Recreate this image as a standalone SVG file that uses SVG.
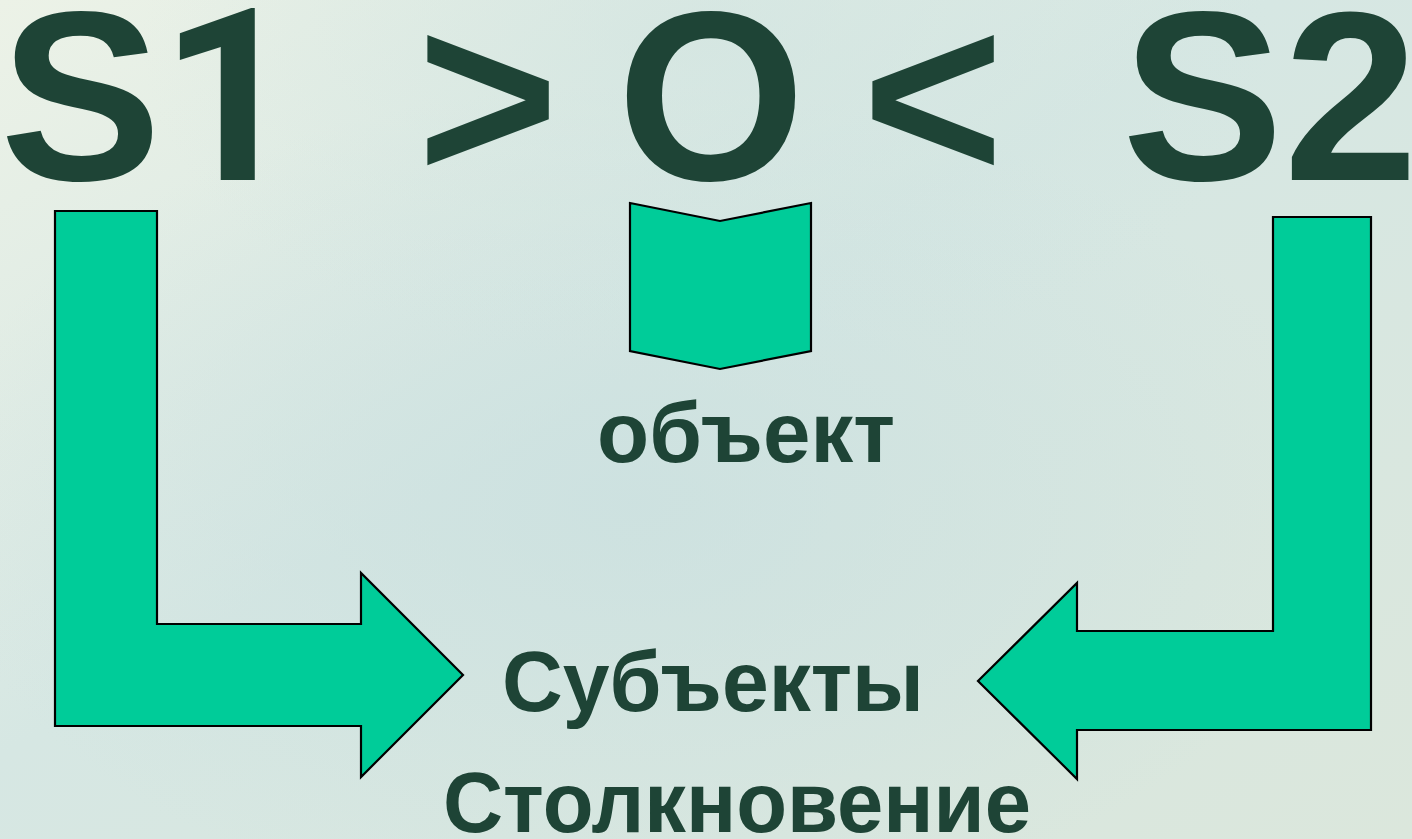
<svg xmlns="http://www.w3.org/2000/svg" width="1412" height="839" viewBox="0 0 1412 839">
  <defs>
    <linearGradient id="bg" x1="0" y1="0" x2="1" y2="1">
      <stop offset="0" stop-color="#ecf2e7"/>
      <stop offset="0.45" stop-color="#d6e7e3"/>
      <stop offset="1" stop-color="#dbe7dc"/>
    </linearGradient>
    <radialGradient id="spot" cx="0.45" cy="0.6" r="0.5">
      <stop offset="0" stop-color="#c9dfdf" stop-opacity="0.7"/>
      <stop offset="1" stop-color="#c9dfdf" stop-opacity="0"/>
    </radialGradient>
    <radialGradient id="spot2" cx="0.5" cy="0.05" r="0.4">
      <stop offset="0" stop-color="#cfe3e0" stop-opacity="0.6"/>
      <stop offset="1" stop-color="#cfe3e0" stop-opacity="0"/>
    </radialGradient>
    <style>
      .big { font-family: "Liberation Sans", Arial, sans-serif; font-weight: bold; font-size: 242px; fill: #1e4436; }
      .mid { text-anchor: middle; }
      .one { font-family: Roboto, "Liberation Sans", sans-serif; font-weight: bold; }
      .lbl { font-family: "Liberation Sans", Arial, sans-serif; font-weight: bold; font-size: 86px; fill: #1e4436; text-anchor: middle; }
      .shape { fill: #00cc99; stroke: #000000; stroke-width: 2.2; stroke-linejoin: miter; }
    </style>
  </defs>
  <rect x="0" y="0" width="1412" height="839" fill="url(#bg)"/>
  <rect x="0" y="0" width="1412" height="839" fill="url(#spot)"/>
  <rect x="0" y="0" width="1412" height="839" fill="url(#spot2)"/>

  <g id="title">
    <text class="big" x="0" y="180">S<tspan class="one" x="160">1</tspan></text>
    <text class="big mid" x="488" y="180">&gt;</text>
    <text class="big mid" x="711" y="180">O</text>
    <text class="big mid" x="933" y="180">&lt;</text>
    <text class="big mid" x="1270" y="180">S2</text>
  </g>

  <g id="node-object">
    <polygon class="shape" points="630,203 720,221 811,203 811,351 720,369 630,351"/>
    <text class="lbl" x="746" y="462" textLength="298" lengthAdjust="spacingAndGlyphs">объект</text>
  </g>

  <g id="node-subjects">
    <text class="lbl" x="713" y="711" textLength="422" lengthAdjust="spacingAndGlyphs">Субъекты</text>
  </g>

  <g id="node-collision">
    <text class="lbl" x="737" y="832" textLength="588" lengthAdjust="spacingAndGlyphs">Столкновение</text>
  </g>

  <g id="connectors">
    <polygon id="arrow-s1" class="shape" points="55,211 157,211 157,624 361,624 361,573 463,675 361,777 361,726 55,726"/>
    <polygon id="arrow-s2" class="shape" points="1273,217 1371,217 1371,730 1077,730 1077,779 978,681 1077,583 1077,631 1273,631"/>
  </g>
</svg>
